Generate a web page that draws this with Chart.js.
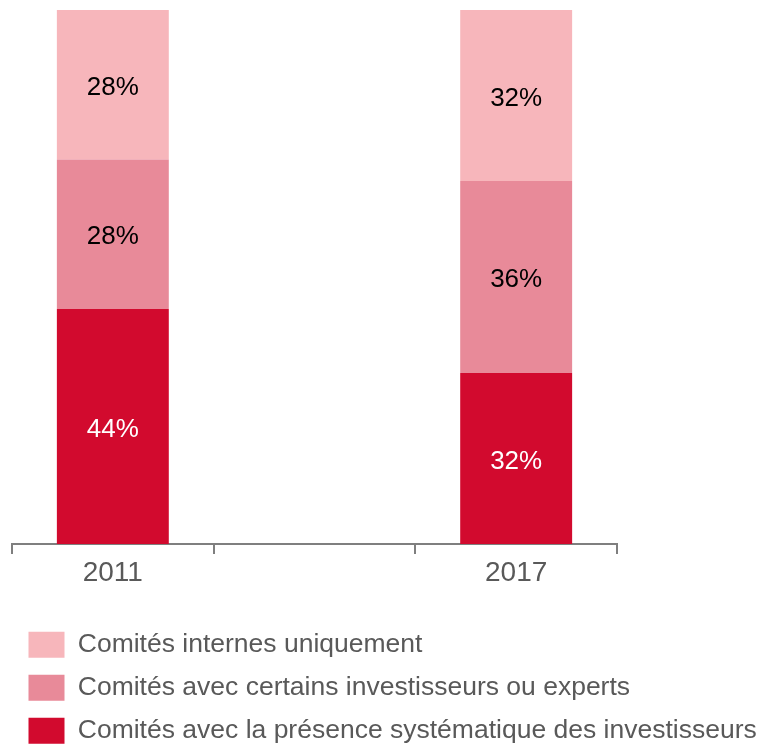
<!DOCTYPE html>
<html>
<head>
<meta charset="utf-8">
<script src="https://cdn.jsdelivr.net/npm/chart.js@4/dist/chart.umd.min.js"></script>
<style>
  html, body { margin: 0; padding: 0; background: #ffffff; }
  #wrap { width: 758px; height: 745px; position: relative; }
</style>
</head>
<body>
<div id="wrap"><canvas id="c" width="758" height="745"></canvas></div>
<script>
const categories = ['2011', '', '2017'];
const seriesNames = [
  'Comités avec la présence systématique des investisseurs',
  'Comités avec certains investisseurs ou experts',
  'Comités internes uniquement'
];
const presenceSystematique = [44, null, 32];
const certainsInvestisseurs = [28, null, 36];
const internesUniquement = [28, null, 32];
const seriesColors = ['#D20A2E', '#E88A99', '#F7B6BB'];
const labelColors = ['#ffffff', '#000000', '#000000'];

const FONT = "'Liberation Sans', Arial, sans-serif";

const valueLabels = {
  id: 'valueLabels',
  afterDatasetsDraw(chart) {
    const ctx = chart.ctx;
    ctx.save();
    ctx.font = '26px ' + FONT;
    ctx.textAlign = 'center';
    ctx.textBaseline = 'middle';
    chart.data.datasets.forEach((ds, di) => {
      const meta = chart.getDatasetMeta(di);
      meta.data.forEach((bar, i) => {
        const v = ds.data[i];
        if (v === null || v === undefined) return;
        const p = bar.getProps(['x', 'y', 'base'], true);
        ctx.fillStyle = labelColors[di];
        ctx.fillText(v + '%', p.x, (p.y + p.base) / 2 + 3);
      });
    });
    ctx.restore();
  }
};

new Chart(document.getElementById('c'), {
  type: 'bar',
  data: {
    labels: categories,
    datasets: [
      { label: seriesNames[0], data: presenceSystematique, backgroundColor: seriesColors[0] },
      { label: seriesNames[1], data: certainsInvestisseurs, backgroundColor: seriesColors[1] },
      { label: seriesNames[2], data: internesUniquement, backgroundColor: seriesColors[2] }
    ]
  },
  options: {
    responsive: false,
    animation: false,
    devicePixelRatio: 1,
    layout: { padding: { left: 12, right: 0, top: 10, bottom: 0 } },
    datasets: { bar: { barPercentage: 0.555, categoryPercentage: 1.0, borderWidth: 0 } },
    scales: {
      x: {
        stacked: true,
        grid: { display: true, drawOnChartArea: false, drawTicks: true, tickLength: 10, offset: true, color: '#7F7F7F', lineWidth: 2 },
        border: { display: true, color: '#7F7F7F', width: 2 },
        ticks: { color: '#595959', font: { family: FONT, size: 28 }, padding: 2 },
        afterFit(scale) { scale.height = 71; }
      },
      y: {
        stacked: true,
        position: 'right',
        display: true,
        min: 0,
        max: 100,
        grid: { display: false },
        border: { display: false },
        ticks: { display: false },
        afterFit(scale) { scale.width = 141; }
      }
    },
    plugins: {
      tooltip: { enabled: false },
      legend: {
        position: 'bottom',
        align: 'start',
        reverse: true,
        maxHeight: 130,
        labels: {
          boxWidth: 36,
          boxHeight: 26,
          padding: 16.5,
          color: '#595959',
          font: { family: FONT, size: 26.5 }
        }
      }
    }
  },
  plugins: [valueLabels]
});
</script>
</body>
</html>
